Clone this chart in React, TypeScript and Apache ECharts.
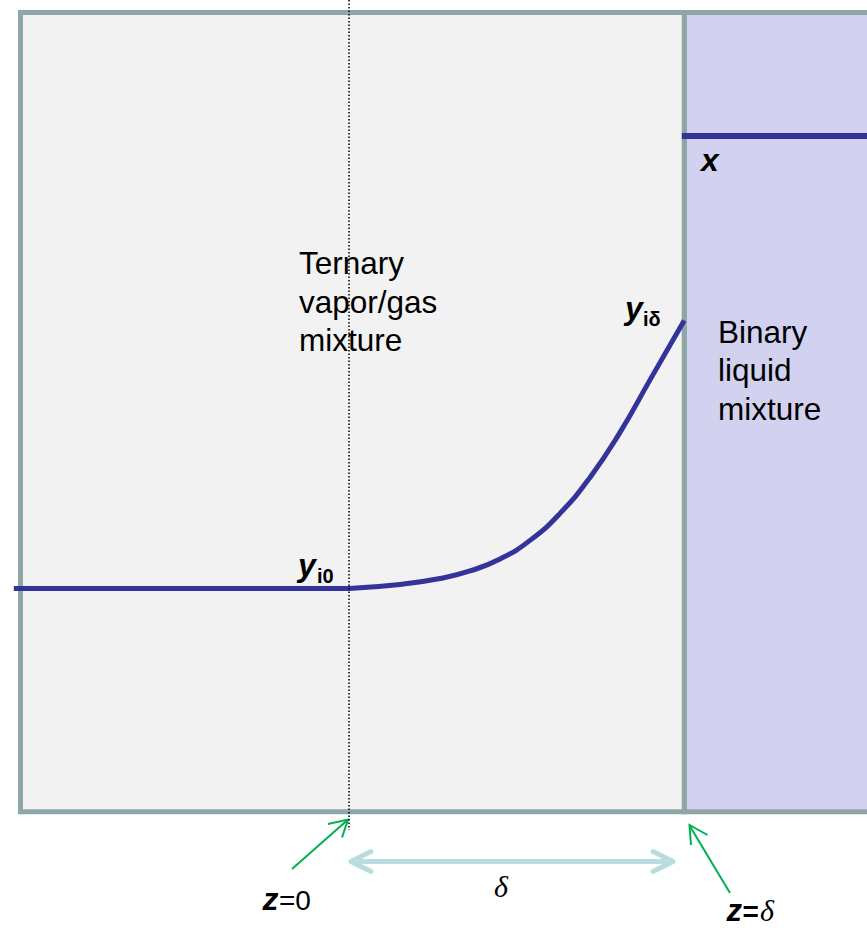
import React, { useEffect, useRef } from 'react';
import * as echarts from 'echarts';

// Axis ranges (z/δ horizontally, mole fraction vertically)
const zAxisMin = -1.0412;
const zAxisMax = 1.5453;
const yAxisMin = -0.1455;
const yAxisMax = 1.0156;

// Regions: liquid side and vapor film side
const regionNames = ['Binary liquid mixture', 'Ternary vapor/gas mixture'];
const regionZStart = [1.0, -0.98];
const regionZEnd = [1.6, 1.0];
const regionYBottom = [0, 0];
const regionYTop = [1, 1];

// Bulk vapor composition (flat) and film profile
const bulkZ = [-1.0, 0];
const bulkY = [0.2793, 0.2793];
const filmZ = [0, 0.152, 0.2715, 0.361, 0.4505, 0.54, 0.6295, 0.719, 0.8085, 0.898, 1.0];
const filmY = [0.2793, 0.2843, 0.2918, 0.3012, 0.3162, 0.3395, 0.3733, 0.4183, 0.4746, 0.5403, 0.6147];
// Liquid composition
const liquidZ = [0.993, 1.5453];
const liquidX = [0.8455, 0.8455];
// z = 0 plane
const planeZ = [0, 0];
const planeY = [1.0156, -0.023];

const SANS = '"Liberation Sans", Arial, sans-serif';
const SERIF = '"Liberation Serif", "Times New Roman", serif';

function txt(text: string, x: number, baseline: number, size: number, opts: any = {}) {
  const family = opts.family || SANS;
  const k = family === SERIF ? 0.3375 : 0.3465;
  return {
    type: 'text',
    x,
    y: baseline - k * size,
    silent: true,
    z: 100,
    style: {
      text,
      fill: opts.fill || '#000',
      fontSize: size,
      fontFamily: family,
      fontWeight: opts.weight || 'normal',
      fontStyle: opts.style || 'normal',
      align: 'left',
      verticalAlign: 'middle',
    },
  };
}

export default function App() {
  const ref = useRef<HTMLDivElement>(null);
  useEffect(() => {
    if (!ref.current) return;
    const chart = echarts.init(ref.current, null, { renderer: 'svg' });
    const fills = ['#d2d2f0', '#f2f2f2'];
    const green = '#00b050';
    const option: any = {
      animation: false,
      backgroundColor: '#ffffff',
      grid: { left: 0, right: 0, top: 0, bottom: 0 },
      xAxis: { type: 'value', min: zAxisMin, max: zAxisMax, show: false },
      yAxis: { type: 'value', min: yAxisMin, max: yAxisMax, show: false },
      series: [
        {
          type: 'custom',
          name: 'regions',
          silent: true,
          z: 1,
          data: regionNames.map((n, i) => ({
            name: n,
            value: [regionZStart[i], regionZEnd[i], regionYBottom[i], regionYTop[i], i],
          })),
          renderItem: (params: any, api: any) => {
            const p0 = api.coord([api.value(0), api.value(3)]);
            const p1 = api.coord([api.value(1), api.value(2)]);
            const i = api.value(4);
            return {
              type: 'rect',
              shape: { x: p0[0], y: p0[1], width: p1[0] - p0[0], height: p1[1] - p0[1] },
              style: { fill: fills[i], stroke: '#8fa6a6', lineWidth: 5 },
            };
          },
        },
        {
          type: 'line',
          name: 'bulk',
          z: 3,
          silent: true,
          symbol: 'none',
          data: bulkZ.map((z, i) => [z, bulkY[i]]),
          lineStyle: { color: '#333399', width: 5 },
        },
        {
          type: 'line',
          name: 'film',
          z: 3,
          silent: true,
          symbol: 'none',
          smooth: 0.5,
          data: filmZ.map((z, i) => [z, filmY[i]]),
          lineStyle: { color: '#333399', width: 5 },
        },
        {
          type: 'line',
          name: 'liquid',
          z: 3,
          silent: true,
          symbol: 'none',
          data: liquidZ.map((z, i) => [z, liquidX[i]]),
          lineStyle: { color: '#333399', width: 6 },
        },
        {
          type: 'line',
          name: 'plane',
          z: 4,
          silent: true,
          symbol: 'none',
          data: planeZ.map((z, i) => [z, planeY[i]]),
          lineStyle: { color: '#000000', width: 1.5, type: [1.5, 2] },
        },
      ],
      graphic: [
        // δ span arrow
        { type: 'line', silent: true, shape: { x1: 353, y1: 861.5, x2: 671, y2: 861.5 },
          style: { stroke: '#b7dde0', lineWidth: 5, lineCap: 'round' } },
        { type: 'polyline', silent: true, shape: { points: [[371, 851.5], [351, 861.5], [371, 871.5]] },
          style: { stroke: '#b7dde0', lineWidth: 5, lineCap: 'round', lineJoin: 'round', fill: null } },
        { type: 'polyline', silent: true, shape: { points: [[653, 851.5], [673, 861.5], [653, 871.5]] },
          style: { stroke: '#b7dde0', lineWidth: 5, lineCap: 'round', lineJoin: 'round', fill: null } },
        // green pointer arrows
        { type: 'line', silent: true, shape: { x1: 292, y1: 869, x2: 347.5, y2: 820 },
          style: { stroke: green, lineWidth: 2 } },
        { type: 'polyline', silent: true, shape: { points: [[328, 824], [348, 819.5], [342, 837.5]] },
          style: { stroke: green, lineWidth: 2, fill: null } },
        { type: 'line', silent: true, shape: { x1: 730, y1: 893, x2: 689.5, y2: 825.5 },
          style: { stroke: green, lineWidth: 2 } },
        { type: 'polyline', silent: true, shape: { points: [[691, 845], [689.5, 825], [707.5, 835]] },
          style: { stroke: green, lineWidth: 2, fill: null } },
        // region labels
        txt('Ternary', 299, 274, 31.5),
        txt('vapor/gas', 299, 312.5, 31.5),
        txt('mixture', 299, 351, 31.5),
        txt('Binary', 718, 343, 31.5),
        txt('liquid', 718, 381, 31.5),
        txt('mixture', 718, 419.5, 31.5),
        // composition labels
        txt('y', 298, 576, 32, { weight: 'bold', style: 'italic' }),
        txt('i0', 317, 583, 20, { weight: 'bold' }),
        txt('y', 625, 319.5, 32, { weight: 'bold', style: 'italic' }),
        txt('iδ', 643, 326, 20, { weight: 'bold' }),
        txt('x', 701, 171.5, 32, { weight: 'bold', style: 'italic' }),
        // position labels
        txt('z', 262.5, 910, 32, { weight: 'bold', style: 'italic' }),
        txt('=0', 279, 910, 28),
        txt('δ', 494, 896.5, 30, { family: SERIF, style: 'italic' }),
        txt('z', 726.5, 921, 31, { weight: 'bold', style: 'italic' }),
        txt('=', 742.5, 921, 28, { weight: 'bold' }),
        txt('δ', 760, 921, 30, { family: SERIF, style: 'italic' }),
      ],
    };
    chart.setOption(option);
    return () => chart.dispose();
  }, []);
  return (
    <div
      ref={ref}
      style={{ position: 'absolute', left: 0, top: 0, width: 867, height: 928 }}
    />
  );
}
